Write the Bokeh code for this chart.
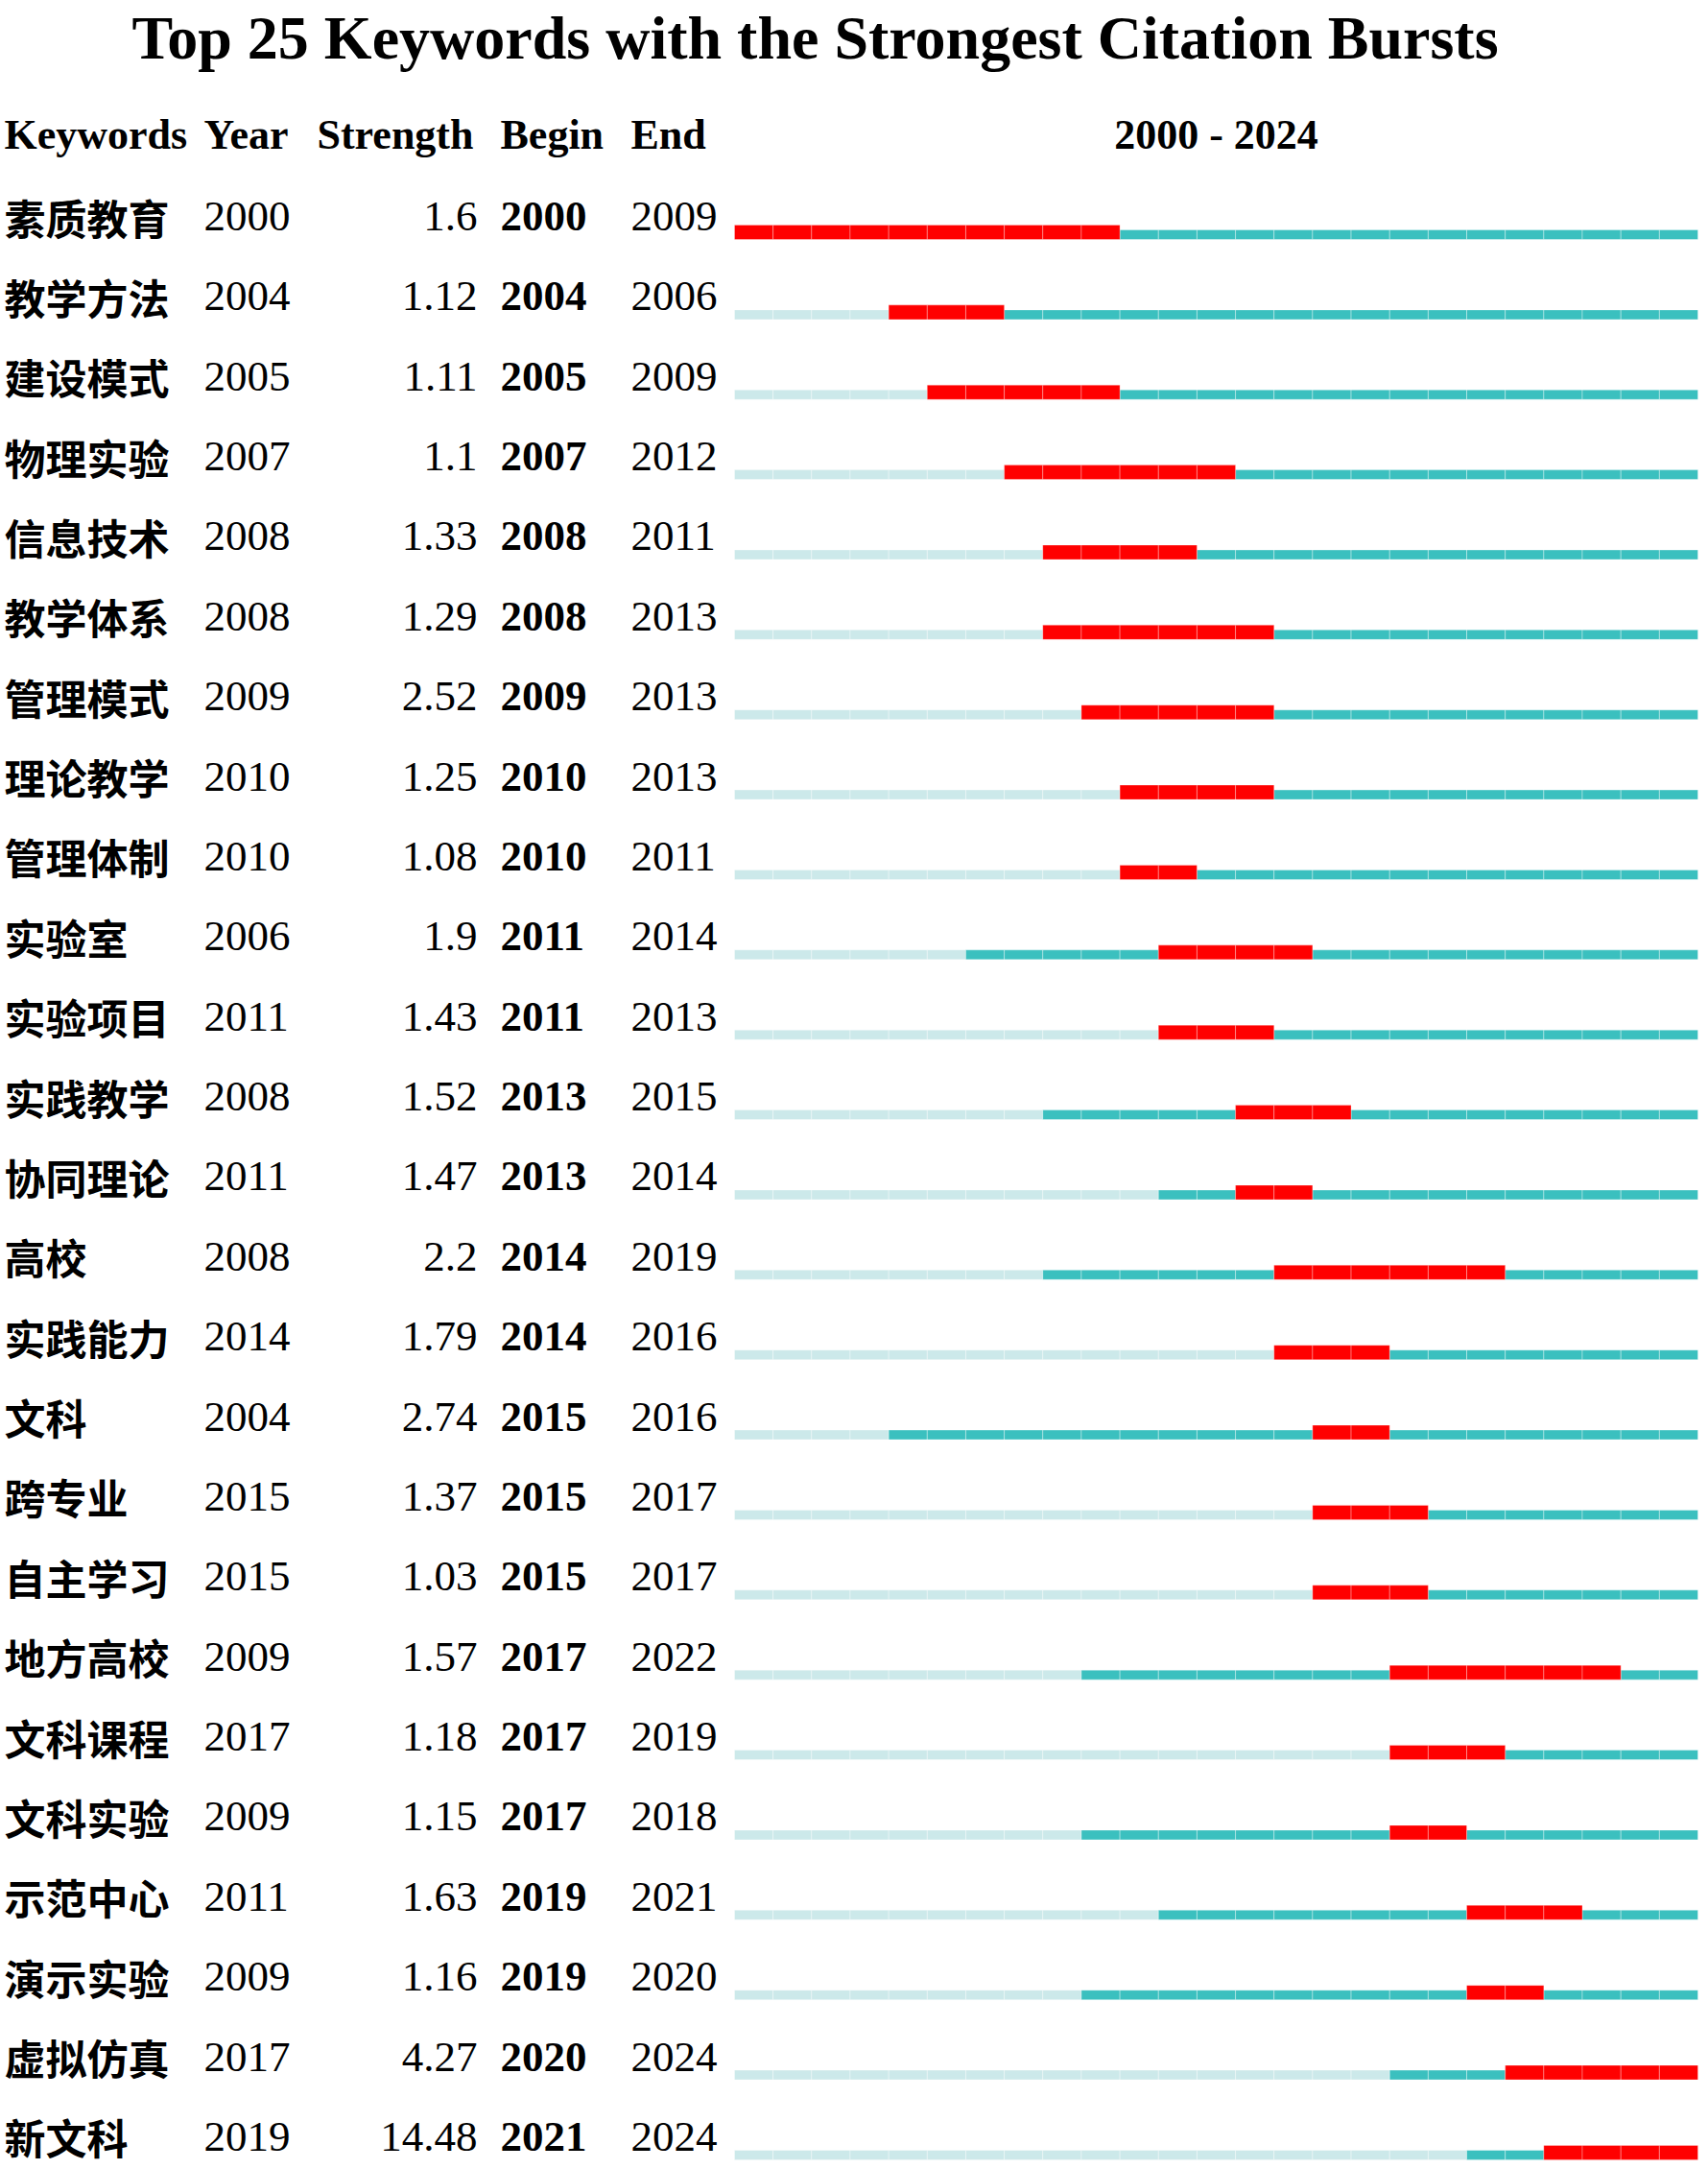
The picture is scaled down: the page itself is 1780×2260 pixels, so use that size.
from bokeh.plotting import figure
from bokeh.models import ColumnDataSource, Range1d
from bokeh.core.properties import value
from bokeh.embed import file_html
from bokeh.resources import INLINE

# ---------------- data ----------------
keywords = ["素质教育", "教学方法", "建设模式", "物理实验", "信息技术", "教学体系", "管理模式",
            "理论教学", "管理体制", "实验室", "实验项目", "实践教学", "协同理论", "高校",
            "实践能力", "文科", "跨专业", "自主学习", "地方高校", "文科课程", "文科实验",
            "示范中心", "演示实验", "虚拟仿真", "新文科"]
years = [2000, 2004, 2005, 2007, 2008, 2008, 2009, 2010, 2010, 2006, 2011, 2008, 2011, 2008,
         2014, 2004, 2015, 2015, 2009, 2017, 2009, 2011, 2009, 2017, 2019]
strengths = [1.6, 1.12, 1.11, 1.1, 1.33, 1.29, 2.52, 1.25, 1.08, 1.9, 1.43, 1.52, 1.47, 2.2,
             1.79, 2.74, 1.37, 1.03, 1.57, 1.18, 1.15, 1.63, 1.16, 4.27, 14.48]
begins = [2000, 2004, 2005, 2007, 2008, 2008, 2009, 2010, 2010, 2011, 2011, 2013, 2013, 2014,
          2014, 2015, 2015, 2015, 2017, 2017, 2017, 2019, 2019, 2020, 2021]
ends = [2009, 2006, 2009, 2012, 2011, 2013, 2013, 2013, 2011, 2014, 2013, 2015, 2014, 2019,
        2016, 2016, 2017, 2017, 2022, 2019, 2018, 2021, 2020, 2024, 2024]
first_year, last_year = 2000, 2024
title = "Top 25 Keywords with the Strongest Citation Bursts"
headers = ["Keywords", "Year", "Strength", "Begin", "End"]
span_label = f"{first_year} - {last_year}"

# ---------------- style ----------------
RED = "#FF0000"
TEAL = "#3BC0BF"
LIGHT = "#CCE9EA"
SERIF = value("Liberation Serif")
CJK = value("Noto Sans CJK SC")

W, H = 1776, 2256
PX_PER_YEAR = 40.16
YEAR0_SCREEN = 765
x_start = first_year - YEAR0_SCREEN / PX_PER_YEAR
x_end = x_start + W / PX_PER_YEAR
ROW0 = 226.0
ROW_H = 83.37
y_top = (0 - ROW0) / ROW_H
y_bot = (H - ROW0) / ROW_H

p = figure(width=W, height=H, x_range=Range1d(x_start, x_end), y_range=Range1d(y_bot, y_top),
           output_backend="svg", toolbar_location=None, min_border=0)
p.axis.visible = False
p.grid.visible = False
p.outline_line_color = None
p.background_fill_color = "white"
p.extra_x_ranges = {"px": Range1d(0, W)}

# ---------------- bars (one cell per year) ----------------
BAR_BOTTOM = 0.276
THIN_TOP = 0.156
THICK_TOP = 0.096
cells = dict(left=[], right=[], top=[], bottom=[], color=[])
red_cells = dict(left=[], right=[], top=[], bottom=[], color=[])
for i, (yr, b, e) in enumerate(zip(years, begins, ends)):
    for y in range(first_year, last_year + 1):
        if b <= y <= e:
            d, c, t = red_cells, RED, THICK_TOP
        elif y < yr:
            d, c, t = cells, LIGHT, THIN_TOP
        else:
            d, c, t = cells, TEAL, THIN_TOP
        d["left"].append(y)
        d["right"].append(y + 1)
        d["top"].append(i + t)
        d["bottom"].append(i + BAR_BOTTOM)
        d["color"].append(c)

p.quad(left="left", right="right", top="top", bottom="bottom", fill_color="color",
       line_color="white", line_alpha=0.35, line_width=1, source=ColumnDataSource(cells))
p.quad(left="left", right="right", top="top", bottom="bottom", fill_color="color",
       line_color="white", line_alpha=0.3, line_width=1, source=ColumnDataSource(red_cells))

# ---------------- table text ----------------
SHIFT = 17.0 / ROW_H           # compensation of renderer baseline offset
TEXT_DY = (242 - ROW0) / ROW_H - SHIFT
rows = list(range(len(keywords)))
src = ColumnDataSource(dict(
    y=[r + TEXT_DY for r in rows],
    kw=keywords,
    yr=[str(v) for v in years],
    st=[f"{v:g}" for v in strengths],
    bg=[str(v) for v in begins],
    en=[str(v) for v in ends],
))
FS = "45px"
HFS = "44px"
p.text(x=4, y="y", text="kw", source=src, x_range_name="px", text_font=CJK,
       text_font_size="43px", text_font_style="bold", text_baseline="alphabetic",
       text_align="left", text_color="black")
p.text(x=212, y="y", text="yr", source=src, x_range_name="px", text_font=SERIF,
       text_font_size=FS, text_baseline="alphabetic", text_align="left", text_color="black")
p.text(x=497, y="y", text="st", source=src, x_range_name="px", text_font=SERIF,
       text_font_size=FS, text_baseline="alphabetic", text_align="right", text_color="black")
p.text(x=521, y="y", text="bg", source=src, x_range_name="px", text_font=SERIF,
       text_font_size=FS, text_font_style="bold", text_baseline="alphabetic",
       text_align="left", text_color="black")
p.text(x=657, y="y", text="en", source=src, x_range_name="px", text_font=SERIF,
       text_font_size=FS, text_baseline="alphabetic", text_align="left", text_color="black")

# ---------------- headers & title ----------------
HEADER_Y = (157 - ROW0) / ROW_H - SHIFT
TITLE_Y = (56 - ROW0) / ROW_H - SHIFT
hsrc = ColumnDataSource(dict(x=[4, 212, 330, 521, 657], y=[HEADER_Y] * 5, t=headers))
p.text(x="x", y="y", text="t", source=hsrc, x_range_name="px", text_font=SERIF,
       text_font_size=HFS, text_font_style="bold", text_baseline="alphabetic",
       text_align="left", text_color="black")
p.text(x=[(first_year + last_year + 1) / 2], y=[HEADER_Y], text=[span_label], text_font=SERIF,
       text_font_size=HFS, text_font_style="bold", text_baseline="alphabetic",
       text_align="center", text_color="black")
p.text(x=[849], y=[TITLE_Y], text=[title], x_range_name="px", text_font=SERIF,
       text_font_size="64px", text_font_style="bold", text_baseline="alphabetic",
       text_align="center", text_color="black")

open("out.html", "w").write(file_html(p, INLINE))
